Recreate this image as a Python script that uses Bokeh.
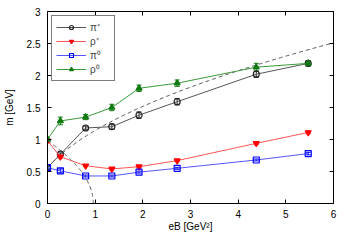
import numpy as np
from bokeh.plotting import figure
from bokeh.models import (ColumnDataSource, Whisker, TeeHead, LinearAxis, FixedTicker,
                          CustomJSTickFormatter, Legend, LegendItem, Range1d)
from bokeh.embed import file_html
from bokeh.resources import INLINE

# data
eB = [0.0, 0.27, 0.8, 1.35, 1.92, 2.72, 4.38, 5.47]
pi_plus = [0.56, 0.77, 1.18, 1.20, 1.38, 1.59, 2.02, 2.19]
pi_plus_err = [0.02, 0.02, 0.03, 0.04, 0.05, 0.05, 0.05, 0.04]
rho_plus = [0.98, 0.73, 0.59, 0.54, 0.575, 0.67, 0.94, 1.11]
rho_plus_err = [0.02, 0.02, 0.015, 0.015, 0.015, 0.015, 0.015, 0.02]
pi_zero = [0.56, 0.51, 0.43, 0.43, 0.49, 0.55, 0.68, 0.78]
pi_zero_err = [0.02, 0.03, 0.015, 0.015, 0.015, 0.015, 0.015, 0.02]
rho_zero = [1.00, 1.29, 1.35, 1.50, 1.80, 1.88, 2.13, 2.19]
rho_zero_err = [0.04, 0.06, 0.04, 0.05, 0.05, 0.05, 0.06, 0.04]

# masses for the free-particle curves
m_pi = 0.55
m_rho = 0.98

x_ticks = [0, 1, 2, 3, 4, 5, 6]
y_ticks = [0, 0.5, 1, 1.5, 2, 2.5, 3]

FONT = "Liberation Sans"

p = figure(width=347, height=244, output_backend="svg", toolbar_location=None,
           x_range=Range1d(0, 6), y_range=Range1d(0, 3),
           min_border_left=47, min_border_right=14, min_border_top=11, min_border_bottom=41)
p.xgrid.visible = False
p.ygrid.visible = False
p.outline_line_color = "black"
p.outline_line_width = 1
p.background_fill_color = "white"

fmt = CustomJSTickFormatter(code="return String(tick);")
blank = CustomJSTickFormatter(code="return '';")

def style_axis(ax, ticks, show_labels):
    ax.ticker = FixedTicker(ticks=ticks)
    ax.formatter = fmt if show_labels else blank
    ax.major_tick_in = 4
    ax.major_tick_out = 0
    ax.minor_tick_in = 0
    ax.minor_tick_out = 0
    ax.axis_line_color = "black"
    ax.major_tick_line_color = "black"
    ax.major_label_text_font = FONT
    ax.major_label_text_font_size = "10px"
    ax.major_label_text_color = "black"
    ax.axis_label_text_font = FONT
    ax.axis_label_text_font_size = "10px"
    ax.axis_label_text_font_style = "normal"
    ax.axis_label_text_color = "black"
    if not show_labels:
        ax.major_label_standoff = 0

style_axis(p.xaxis[0], x_ticks, True)
style_axis(p.yaxis[0], y_ticks, True)
p.xaxis[0].axis_label = "eB [GeV²]"
p.yaxis[0].axis_label = "m [GeV]"
p.xaxis[0].major_label_standoff = 6
p.xaxis[0].axis_label_standoff = 0
p.yaxis[0].major_label_standoff = 7
p.yaxis[0].axis_label_standoff = 9

top = LinearAxis()
style_axis(top, x_ticks, False)
p.add_layout(top, "above")
right = LinearAxis()
style_axis(right, y_ticks, False)
p.add_layout(right, "right")

# free-particle dashed curves
xc1 = np.linspace(0, 6, 200)
p.line(xc1, np.sqrt(m_pi**2 + xc1), line_color="#555555", line_dash="4 3", line_width=1)
xc2 = np.concatenate([np.linspace(0, m_rho**2 * 0.98, 120), np.linspace(m_rho**2 * 0.98, m_rho**2, 60)])
p.line(xc2, np.sqrt(np.clip(m_rho**2 - xc2, 0, None)), line_color="#555555", line_dash="4 3", line_width=1)

series = [
    ("π⁺", pi_plus, pi_plus_err, "#222222", "#555555", "circle", False),
    ("ρ⁺", rho_plus, rho_plus_err, "#ff0000", "#ff5555", "inverted_triangle", True),
    ("π⁰", pi_zero, pi_zero_err, "#0000ff", "#5555ff", "square", False),
    ("ρ⁰", rho_zero, rho_zero_err, "#107a10", "#3a9a3a", "triangle", True),
]

items = []
for label, ys, errs, col, lcol, marker, filled in series:
    src = ColumnDataSource(dict(x=eB, y=ys,
                                lo=[a - b for a, b in zip(ys, errs)],
                                hi=[a + b for a, b in zip(ys, errs)]))
    ln = p.line("x", "y", source=src, line_color=lcol, line_width=1)
    w = Whisker(source=src, base="x", lower="lo", upper="hi", line_color=col, line_width=1,
                lower_head=TeeHead(size=5, line_color=col, line_width=1),
                upper_head=TeeHead(size=5, line_color=col, line_width=1))
    p.add_layout(w)
    sc = p.scatter("x", "y", source=src, marker=marker, size=6,
                   line_color=col, line_width=1.2,
                   fill_color=col if filled else None)
    items.append(LegendItem(label=label, renderers=[ln, sc]))

legend = Legend(items=items, location="top_left")
legend.border_line_color = "black"
legend.border_line_width = 1
legend.background_fill_color = "white"
legend.background_fill_alpha = 1
legend.label_text_font = FONT
legend.label_text_font_size = "10px"
legend.label_height = 10
legend.glyph_height = 10
legend.glyph_width = 30
legend.spacing = 0
legend.padding = 4
legend.margin = 4
legend.label_standoff = 4
p.add_layout(legend)

open("out.html", "w").write(file_html(p, INLINE))
